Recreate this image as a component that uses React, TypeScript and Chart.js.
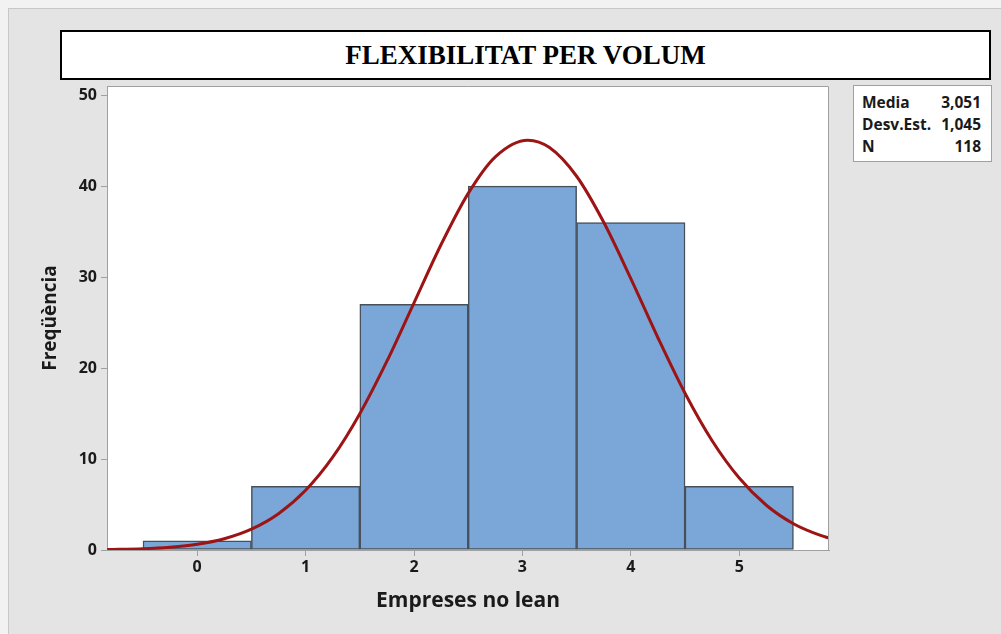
import React, { useEffect, useRef } from "react";
import { Chart, registerables } from "chart.js";

Chart.register(...registerables);

// Histogram data
const binCenters = [0, 1, 2, 3, 4, 5];
const counts = [1, 7, 27, 40, 36, 7];

// Fitted normal curve
const curveX = [-0.83, -0.5, -0.25, 0, 0.25, 0.5, 0.75, 1, 1.25, 1.5, 1.75, 2, 2.25, 2.5, 2.75, 3.05, 3.25, 3.5, 3.75, 4, 4.25, 4.5, 4.75, 5, 5.25, 5.5, 5.75, 5.83];
const curveY = [0.05, 0.14, 0.31, 0.63, 1.24, 2.29, 3.99, 6.56, 10.2, 14.98, 20.75, 27.17, 33.58, 39.2, 43.22, 45.05, 44.24, 41.08, 36.02, 29.83, 23.33, 17.23, 12.01, 7.91, 4.92, 2.89, 1.6, 1.31];

const xTicks = [0, 1, 2, 3, 4, 5];
const yTicks = [0, 10, 20, 30, 40, 50];

const statLabels = ["Media", "Desv.Est.", "N"];
const statValues = ["3,051", "1,045", "118"];

const TITLE = "FLEXIBILITAT PER VOLUM";
const X_TITLE = "Empreses no lean";
const Y_TITLE = "Freqüència";

const SANS = "'Open Sans', 'Noto Sans', sans-serif";
const AXIS_GRAY = "#a0a0a0";
const TEXT = "#1a1a1a";

const areaPlugin = {
  id: "areaPlugin",
  beforeDraw(chart: any) {
    const { ctx, chartArea: a } = chart;
    ctx.save();
    ctx.fillStyle = "#ffffff";
    ctx.fillRect(a.left, a.top, a.right - a.left, a.bottom - a.top);
    ctx.restore();
  },
  afterDraw(chart: any) {
    const { ctx, chartArea: a } = chart;
    ctx.save();
    ctx.strokeStyle = AXIS_GRAY;
    ctx.lineWidth = 1;
    ctx.beginPath();
    ctx.moveTo(a.left, a.top + 0.5);
    ctx.lineTo(a.right - 0.5, a.top + 0.5);
    ctx.lineTo(a.right - 0.5, a.bottom);
    ctx.stroke();
    ctx.restore();
  },
};

export default function App() {
  const ref = useRef<HTMLCanvasElement | null>(null);

  useEffect(() => {
    document.body.style.background = "#f2f2f2";
    const canvas = ref.current;
    if (!canvas) return;
    const tickFont = { family: SANS, size: 16, weight: "bold" as any };
    const xTitleFont = { family: SANS, size: 21, weight: "bold" as any, lineHeight: 1.2 };
    const yTitleFont = { family: SANS, size: 19, weight: "bold" as any, lineHeight: 1.2 };
    const chart = new Chart(canvas, {
      type: "bar",
      data: {
        datasets: [
          {
            type: "line",
            data: curveX.map((x, i) => ({ x, y: curveY[i] })),
            borderColor: "#9c1414",
            borderWidth: 3,
            pointRadius: 0,
            cubicInterpolationMode: "monotone",
            fill: false,
            order: 0,
          } as any,
          {
            type: "bar",
            data: binCenters.map((x, i) => ({ x, y: counts[i] })),
            backgroundColor: "#7ba7d8",
            borderColor: "#46505b",
            borderWidth: 1.5,
            borderSkipped: false,
            barPercentage: 1,
            categoryPercentage: 1,
            order: 1,
          } as any,
        ],
      },
      plugins: [areaPlugin],
      options: {
        animation: false,
        responsive: false,
        maintainAspectRatio: false,
        layout: { padding: { left: 0, top: 77, right: 172, bottom: 0 } },
        plugins: { legend: { display: false }, tooltip: { enabled: false }, title: { display: false } },
        scales: {
          x: {
            type: "linear",
            min: -0.832,
            max: 5.828,
            offset: false,
            afterBuildTicks: (s: any) => {
              s.ticks = xTicks.map((v) => ({ value: v }));
            },
            afterFit: (s: any) => {
              s.height = 84;
            },
            grid: { display: true, offset: false, drawOnChartArea: false, drawTicks: true, tickLength: 6, color: AXIS_GRAY },
            border: { display: true, color: AXIS_GRAY, width: 1 },
            ticks: { font: tickFont, color: TEXT, padding: 2, autoSkip: false, maxRotation: 0 },
            title: { display: true, text: X_TITLE, font: xTitleFont, color: TEXT, padding: { top: 0, bottom: 20 } },
          },
          y: {
            type: "linear",
            min: 0,
            max: 51,
            afterBuildTicks: (s: any) => {
              s.ticks = yTicks.map((v) => ({ value: v }));
            },
            afterFit: (s: any) => {
              s.width = 98;
            },
            grid: { display: true, offset: false, drawOnChartArea: false, drawTicks: true, tickLength: 6, color: AXIS_GRAY },
            border: { display: true, color: AXIS_GRAY, width: 1 },
            ticks: { font: tickFont, color: TEXT, padding: 4, autoSkip: false },
            title: { display: true, text: Y_TITLE, font: yTitleFont, color: TEXT, padding: { top: 30, bottom: 0 } },
          },
        },
      } as any,
    });
    return () => chart.destroy();
  }, []);

  return (
    <div
      style={{
        position: "fixed",
        left: 8,
        top: 8,
        right: 0,
        bottom: 0,
        background: "#e4e4e4",
        borderLeft: "1px solid #c8c8c8",
        borderTop: "1px solid #c8c8c8",
        overflow: "hidden",
      }}
    >
      <canvas ref={ref} width={992} height={625} style={{ position: "absolute", left: 0, top: 0, width: 992, height: 625 }} />
      <div
        style={{
          position: "absolute",
          left: 51,
          top: 21,
          width: 927,
          height: 46,
          border: "2px solid #000",
          background: "#fff",
          display: "flex",
          alignItems: "center",
          justifyContent: "center",
          fontFamily: "'Liberation Serif', 'Times New Roman', serif",
          fontWeight: "bold",
          fontSize: 27,
          color: "#000",
        }}
      >
        {TITLE}
      </div>
      <div
        style={{
          position: "absolute",
          left: 844,
          top: 76,
          width: 137,
          height: 75,
          border: "1px solid #a0a0a0",
          background: "#fff",
          fontFamily: SANS,
          fontWeight: "bold",
          fontSize: 15.5,
          color: TEXT,
          boxSizing: "content-box",
        }}
      >
        {statLabels.map((l, i) => (
          <div
            key={l}
            style={{
              position: "absolute",
              left: 8,
              right: 10,
              top: 5 + i * 22,
              height: 22,
              lineHeight: "22px",
              display: "flex",
              justifyContent: "space-between",
            }}
          >
            <span>{l}</span>
            <span>{statValues[i]}</span>
          </div>
        ))}
      </div>
    </div>
  );
}
